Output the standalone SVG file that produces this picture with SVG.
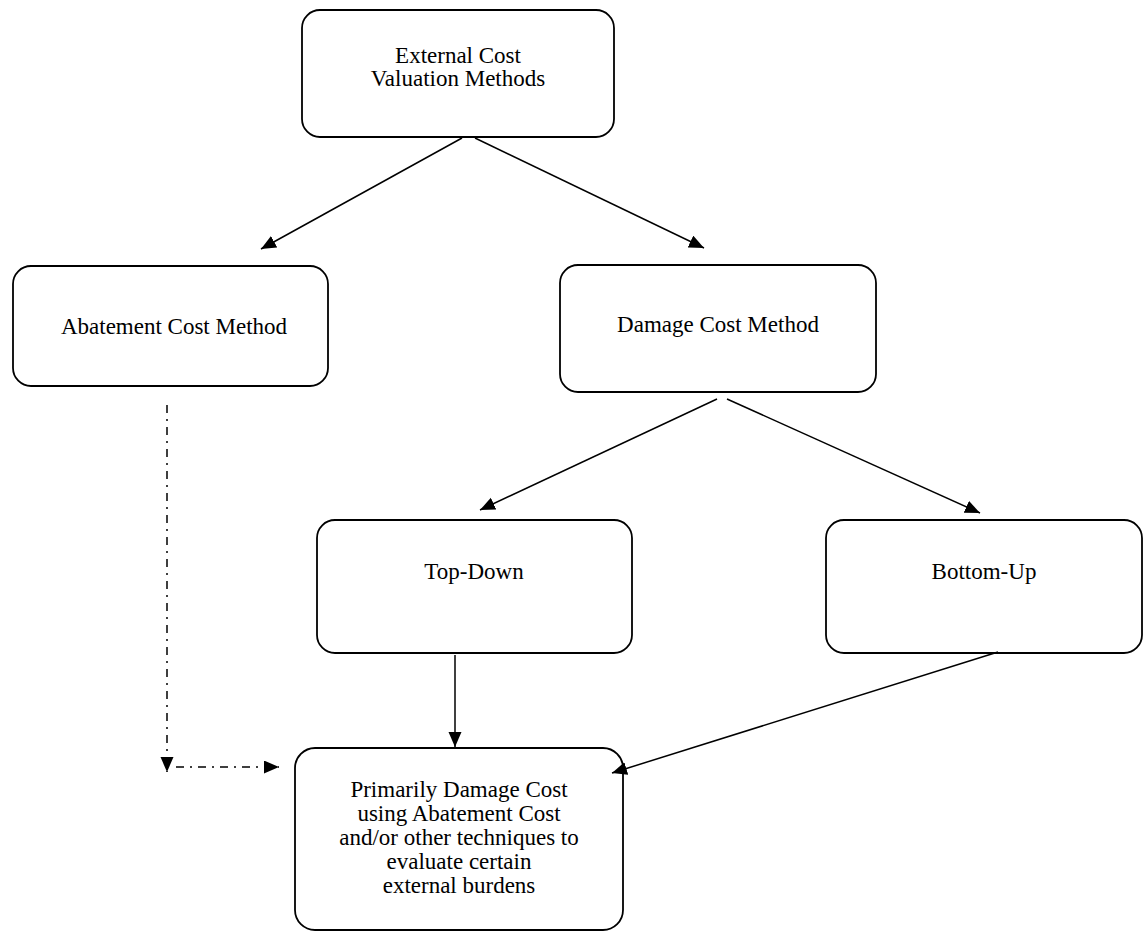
<svg xmlns="http://www.w3.org/2000/svg" width="1145" height="932" viewBox="0 0 1145 932">
  <style>
    .box { fill: #fff; stroke: #000; stroke-width: 1.8; }
    .lbl { font-family: "Liberation Serif", "Times New Roman", serif; font-size: 23px; fill: #000; text-anchor: middle; }
    .edge { stroke: #000; stroke-width: 1.5; fill: none; }
    .dash { stroke-dasharray: 8 6 2 6; }
  </style>
  <defs>
    <marker id="arr" markerUnits="userSpaceOnUse" markerWidth="16" markerHeight="14" refX="15" refY="6.5" orient="auto">
      <path d="M0,0 L15,6.5 L0,13 z" fill="#000"/>
    </marker>
  </defs>
  <rect width="1145" height="932" fill="#fff"/>
  <g id="n-external">
    <rect class="box" x="302" y="10" width="312" height="127" rx="18"/>
    <text class="lbl" x="458" y="63">External Cost</text>
    <text class="lbl" x="458" y="86">Valuation Methods</text>
  </g>
  <g id="n-abatement">
    <rect class="box" x="13" y="266" width="315" height="120" rx="18"/>
    <text class="lbl" x="174" y="334">Abatement Cost Method</text>
  </g>
  <g id="n-damage">
    <rect class="box" x="560" y="265" width="316" height="127" rx="18"/>
    <text class="lbl" x="718" y="332">Damage Cost Method</text>
  </g>
  <g id="n-topdown">
    <rect class="box" x="317" y="520" width="315" height="133" rx="18"/>
    <text class="lbl" x="474" y="579">Top-Down</text>
  </g>
  <g id="n-bottomup">
    <rect class="box" x="826" y="520" width="316" height="133" rx="18"/>
    <text class="lbl" x="984" y="579">Bottom-Up</text>
  </g>
  <g id="n-primary">
    <rect class="box" x="295" y="748" width="328" height="182" rx="20"/>
    <text class="lbl" x="459" y="797">Primarily Damage Cost</text>
    <text class="lbl" x="459" y="821">using Abatement Cost</text>
    <text class="lbl" x="459" y="845">and/or other techniques to</text>
    <text class="lbl" x="459" y="869">evaluate certain</text>
    <text class="lbl" x="459" y="893">external burdens</text>
  </g>
  <g id="connectors">
    <line class="edge" x1="462" y1="138" x2="261" y2="249" marker-end="url(#arr)"/>
    <line class="edge" x1="475" y1="138" x2="704" y2="248" marker-end="url(#arr)"/>
    <line class="edge" x1="717" y1="399" x2="480" y2="510" marker-end="url(#arr)"/>
    <line class="edge" x1="727" y1="399" x2="980" y2="513" marker-end="url(#arr)"/>
    <line class="edge" x1="455" y1="655" x2="455" y2="747" marker-end="url(#arr)"/>
    <line class="edge" x1="998" y1="652" x2="612" y2="773" marker-end="url(#arr)"/>
    <line class="edge dash" x1="167" y1="405" x2="167" y2="772" marker-end="url(#arr)"/>
    <line class="edge dash" x1="176" y1="767" x2="279" y2="767" marker-end="url(#arr)"/>
  </g>
</svg>
